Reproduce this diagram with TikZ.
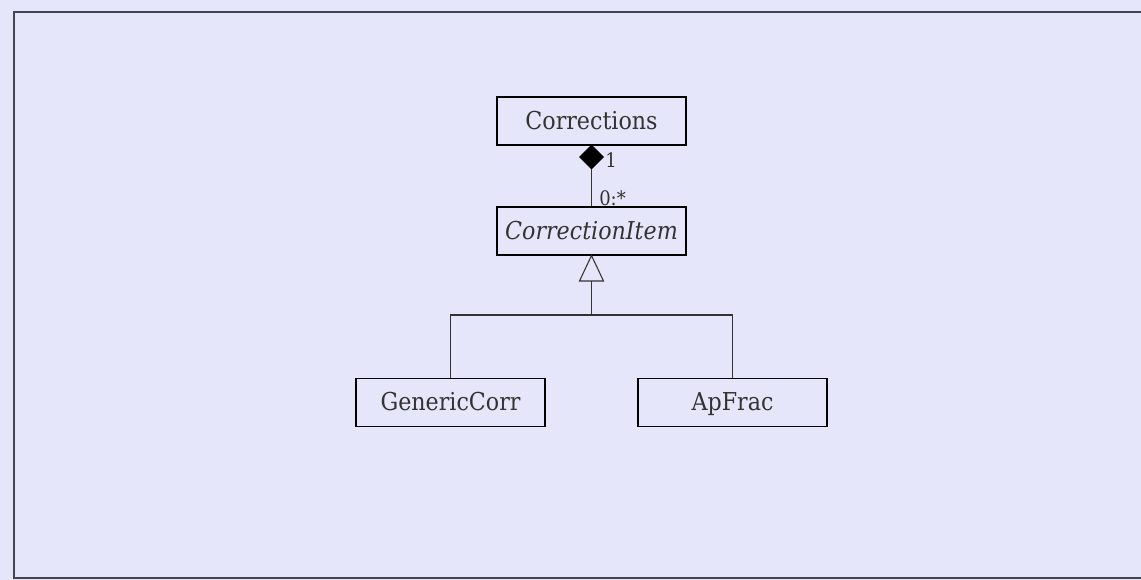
\documentclass[tikz,border=0pt]{standalone}
\usepackage{fontspec}
\setmainfont{DejaVu Serif Condensed}
\usetikzlibrary{arrows.meta}
\definecolor{bg}{HTML}{E6E6FA}
\definecolor{frame}{HTML}{444450}
\definecolor{txt}{HTML}{333333}
\tikzset{
  cls/.style={draw=black, line width=0.8pt, minimum width=141.75pt, minimum height=36pt, inner sep=0pt, text height=15pt, text depth=2.5pt, font=\fontsize{18.5pt}{21pt}\selectfont, text=txt},
  conn/.style={draw=black!80, line width=0.8pt},
  lbl/.style={font=\fontsize{15pt}{17pt}\selectfont, text=txt, inner sep=0pt},
}
\begin{document}
\begin{tikzpicture}[x=0.75pt, y=-0.75pt]
\fill[bg] (0,0) rectangle (1141,580);
\useasboundingbox (0,0) rectangle (1141,580);
\draw[frame, line width=1.3pt] (1145,12) -- (14,12) -- (14,578) -- (1145,578);
\node[cls] (corr) at (591.5,121) {Corrections};
\node[cls] (item) at (591.5,231) {\itshape CorrectionItem};
\node[cls] (gen) at (450.5,402.5) {GenericCorr};
\node[cls] (ap) at (732.5,402.5) {ApFrac};
% composition
\coordinate (dtop) at (591.5,145);
\coordinate (dbot) at (591.5,169);
\draw[fill=black] (dtop) -- (603.5,157) -- (dbot) -- (579.5,157) -- cycle;
\draw[conn] (dbot) -- (item.north);
\node[lbl, anchor=west] (one) at (605,160) {1};
\node[lbl, anchor=west] (many) at (599,198) {0:*};
% generalisation
\coordinate (tri) at (591.5,281);
\coordinate (bar) at (591.5,315);
\draw[conn, fill=bg] (item.south) -- (603.5,281) -- (579.5,281) -- cycle;
\draw[conn] (tri) -- (bar);
\draw[conn] (gen.north) -- (gen.north |- bar) -- (ap.north |- bar) -- (ap.north);
\end{tikzpicture}
\end{document}
